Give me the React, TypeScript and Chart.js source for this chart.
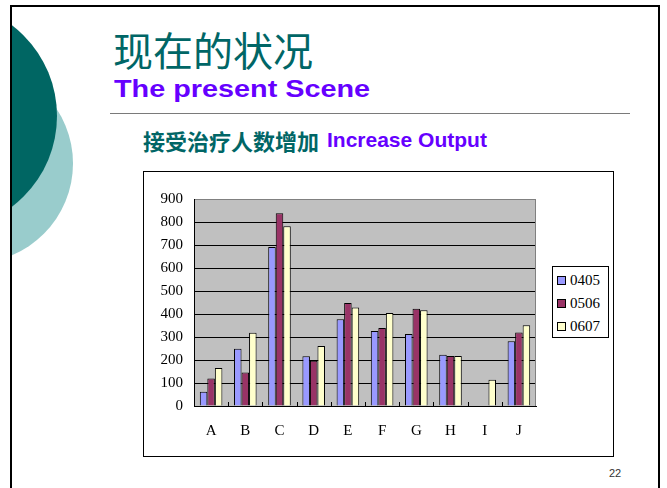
import React, { useEffect, useRef } from "react";
import { Chart, registerables } from "chart.js";

Chart.register(...registerables);

const CATEGORIES = ["A", "B", "C", "D", "E", "F", "G", "H", "I", "J"];
const SERIES_NAMES = ["0405", "0506", "0607"];
const S0405 = [62, 249, 691, 216, 377, 326, 313, 223, null, 281];
const S0506 = [120, 146, 838, 197, 448, 339, 423, 217, null, 320];
const S0607 = [165, 319, 781, 261, 428, 404, 416, 217, 114, 351];
const SERIES_VALUES = [S0405, S0506, S0607];
const SERIES_COLORS = ["#9999FF", "#993366", "#FFFFCC"];
const Y_MIN = 0;
const Y_MAX = 900;
const Y_STEP = 100;

const TITLE_CN = "现在的状况";
const TITLE_EN = "The present Scene";
const SUB_CN = "接受治疗人数增加";
const SUB_EN = "Increase Output";
const PAGE_NO = "22";

const SERIF = "'Liberation Serif', 'Times New Roman', serif";
const SANS = "'Liberation Sans', Arial, sans-serif";
const CJK = "'Noto Sans CJK SC', 'Noto Sans CJK TC', sans-serif";

const plotDecor = {
  id: "plotDecor",
  beforeDraw(chart: any) {
    const { ctx, chartArea: a } = chart;
    ctx.save();
    ctx.fillStyle = "#C0C0C0";
    ctx.fillRect(a.left, a.top, a.right - a.left, a.bottom - a.top);
    ctx.restore();
  },
  afterDatasetsDraw(chart: any) {
    const { ctx, chartArea: a, scales } = chart;
    const xs = scales.x;
    ctx.save();
    ctx.strokeStyle = "#000";
    ctx.lineWidth = 1;
    ctx.beginPath();
    for (let i = 1; i < CATEGORIES.length; i++) {
      const px = Math.round((xs.getPixelForValue(i - 1) + xs.getPixelForValue(i)) / 2) + 0.5;
      ctx.moveTo(px, a.bottom);
      ctx.lineTo(px, a.bottom - 4);
    }
    ctx.stroke();
    ctx.strokeStyle = "#808080";
    ctx.beginPath();
    ctx.moveTo(Math.round(a.right) - 0.5, a.top);
    ctx.lineTo(Math.round(a.right) - 0.5, a.bottom);
    ctx.stroke();
    ctx.restore();
  },
};

function BarChart() {
  const ref = useRef<HTMLCanvasElement | null>(null);
  useEffect(() => {
    if (!ref.current) return;
    Chart.defaults.font.family = SERIF;
    Chart.defaults.font.size = 15;
    Chart.defaults.color = "#000";
    const chart = new Chart(ref.current, {
      type: "bar",
      data: {
        labels: CATEGORIES,
        datasets: SERIES_NAMES.map((name, i) => ({
          label: name,
          data: SERIES_VALUES[i],
          backgroundColor: SERIES_COLORS[i],
          borderColor: "#000",
          borderWidth: 1,
          categoryPercentage: 0.66,
          barPercentage: 1,
        })),
      },
      options: {
        animation: false,
        responsive: false,
        maintainAspectRatio: false,
        layout: { padding: { top: 27, right: 77, bottom: 0, left: 0 } },
        plugins: { legend: { display: false }, tooltip: { enabled: false } },
        scales: {
          x: {
            grid: { display: true, drawOnChartArea: false, drawTicks: false },
            border: { display: true, color: "#000", width: 1 },
            ticks: { padding: 16, color: "#000", font: { size: 15, family: SERIF } },
            afterFit: (s: any) => {
              s.height = 50;
            },
          },
          y: {
            min: Y_MIN,
            max: Y_MAX,
            ticks: { stepSize: Y_STEP, padding: 11, color: "#000", font: { size: 15, family: SERIF } },
            grid: {
              color: (c: any) => (c.tick && c.tick.value === Y_MAX ? "#808080" : "#000"),
              lineWidth: 1,
              drawTicks: false,
            },
            border: { display: true, color: "#000", width: 1 },
            afterFit: (s: any) => {
              s.width = 50;
            },
          },
        },
      },
      plugins: [plotDecor],
    } as any);
    return () => chart.destroy();
  }, []);
  return <canvas ref={ref} width={469} height={284} style={{ display: "block", width: 469, height: 284 }} />;
}

export default function App() {
  return (
    <div
      style={{
        position: "absolute",
        left: 0,
        top: 0,
        width: 667,
        height: 488,
        overflow: "hidden",
        background: "#fff",
      }}
    >
      {/* slide frame with decorative circles */}
      <div
        style={{
          position: "absolute",
          left: 10,
          top: 5,
          width: 650,
          height: 530,
          border: "2px solid #000",
          boxSizing: "border-box",
          overflow: "hidden",
        }}
      >
        <div
          style={{
            position: "absolute",
            left: -138,
            top: 57,
            width: 199,
            height: 199,
            borderRadius: "50%",
            background: "#99CCCC",
          }}
        />
        <div
          style={{
            position: "absolute",
            left: -183,
            top: -5,
            width: 228,
            height: 228,
            borderRadius: "50%",
            background: "#006663",
          }}
        />
      </div>

      <div
        style={{
          position: "absolute",
          left: 113,
          top: 29,
          fontFamily: CJK,
          fontSize: 40,
          lineHeight: "40px",
          color: "#006666",
          whiteSpace: "nowrap",
        }}
      >
        {TITLE_CN}
      </div>
      <div
        style={{
          position: "absolute",
          left: 114,
          top: 77,
          fontFamily: SANS,
          fontWeight: "bold",
          fontSize: 24,
          lineHeight: "24px",
          color: "#6600FF",
          whiteSpace: "nowrap",
          transform: "scaleX(1.2)",
          transformOrigin: "left top",
        }}
      >
        {TITLE_EN}
      </div>
      <div
        style={{
          position: "absolute",
          left: 110,
          top: 113,
          width: 520,
          height: 1,
          background: "#7a7a7a",
        }}
      />
      <div
        style={{
          position: "absolute",
          left: 143,
          top: 130,
          fontFamily: CJK,
          fontWeight: "bold",
          fontSize: 22,
          lineHeight: "21px",
          color: "#006666",
          whiteSpace: "nowrap",
        }}
      >
        {SUB_CN}
      </div>
      <div
        style={{
          position: "absolute",
          left: 327,
          top: 129,
          fontFamily: SANS,
          fontWeight: "bold",
          fontSize: 21,
          lineHeight: "21px",
          color: "#6600FF",
          whiteSpace: "nowrap",
        }}
      >
        {SUB_EN}
      </div>

      {/* chart box */}
      <div
        style={{
          position: "absolute",
          left: 143,
          top: 171,
          width: 471,
          height: 286,
          border: "1px solid #000",
          boxSizing: "border-box",
          background: "#fff",
        }}
      >
        <BarChart />
      </div>

      {/* legend */}
      <div
        style={{
          position: "absolute",
          left: 552,
          top: 266,
          width: 57,
          height: 72,
          border: "1px solid #000",
          boxSizing: "border-box",
          background: "#fff",
          paddingTop: 2,
        }}
      >
        {SERIES_NAMES.map((name, i) => (
          <div
            key={name}
            style={{
              display: "flex",
              alignItems: "center",
              height: 23,
              paddingLeft: 4,
            }}
          >
            <span
              style={{
                display: "inline-block",
                width: 7,
                height: 7,
                border: "1px solid #000",
                background: SERIES_COLORS[i],
                marginRight: 4,
              }}
            />
            <span style={{ fontFamily: SERIF, fontSize: 15, lineHeight: "15px", color: "#000" }}>{name}</span>
          </div>
        ))}
      </div>

      <div
        style={{
          position: "absolute",
          left: 609,
          top: 468,
          fontFamily: SANS,
          fontSize: 11,
          lineHeight: "11px",
          color: "#333",
        }}
      >
        {PAGE_NO}
      </div>
    </div>
  );
}
